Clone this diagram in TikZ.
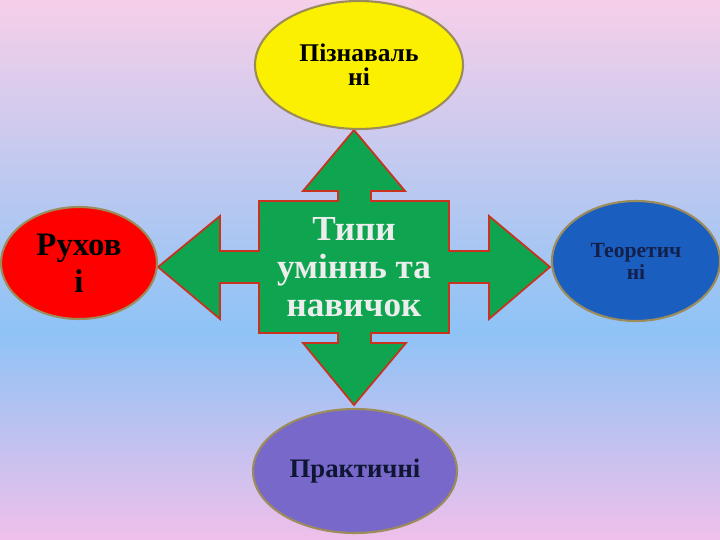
\documentclass[tikz,border=0pt]{standalone}
\usepackage{fontspec}
\setmainfont{Liberation Serif}
\usetikzlibrary{shapes.geometric}
\definecolor{bgpink}{HTML}{F6CFE9}
\definecolor{bgblue}{HTML}{8EC3F6}
\definecolor{bglilac}{HTML}{EFC0EA}
\definecolor{rim}{HTML}{9C8C5A}
\definecolor{arrowred}{HTML}{C8321E}
\definecolor{crossgreen}{HTML}{0FA550}
\definecolor{ovyellow}{HTML}{FBF000}
\definecolor{ovred}{HTML}{FF0000}
\definecolor{ovblue}{HTML}{1A5FBF}
\definecolor{ovpurple}{HTML}{7868CA}
\definecolor{navy}{HTML}{14204A}
\tikzset{
  oval/.style={ellipse,draw=rim,line width=1.2pt,align=center,inner sep=0pt,font=\bfseries},
}
\begin{document}
\begin{tikzpicture}[x=0.02cm,y=-0.02cm]
\useasboundingbox (0,0) rectangle (720,540);
% background
\shade[top color=bgpink,bottom color=bgblue] (0,0) rectangle (720,331);
\shade[top color=bgblue,bottom color=bglilac] (0,330) rectangle (720,540);
%
\coordinate (c) at (354,267);
\draw[fill=crossgreen,draw=arrowred,line width=1pt,line join=miter]
  (354,130) -- (405,191) -- (371,191) -- (371,201) -- (449,201) -- (449,251)
  -- (489,251) -- (489,216) -- (550,267) -- (489,319) -- (489,283) -- (449,283)
  -- (449,333) -- (371,333) -- (371,343) -- (406,343) -- (354,405) -- (303,343)
  -- (338,343) -- (338,333) -- (259,333) -- (259,283) -- (220,283) -- (220,319)
  -- (158,267) -- (220,216) -- (220,251) -- (259,251) -- (259,201) -- (338,201)
  -- (338,191) -- (303,191) -- cycle;
\node (typy) [align=center,text=white!93!black,font=\fontsize{20}{21.5}\selectfont\bfseries] at (c) {Типи\\уміннь та\\навичок};
%
\node (pizn) [oval,fill=ovyellow,minimum width=4.16cm,minimum height=2.56cm] at (359,65) {};
\node [align=center,font=\fontsize{14.5}{13.5}\selectfont\bfseries] at (pizn) {Пізнаваль\\ні};
\node (rukh) [oval,fill=ovred,minimum width=3.12cm,minimum height=2.24cm] at (79,263) {};
\node [align=center,font=\fontsize{18.7}{21}\selectfont\bfseries] at (rukh) {Рухов\\і};
\node (teor) [oval,fill=ovblue,minimum width=3.36cm,minimum height=2.4cm] at (636,261) {};
\node [align=center,text=navy,font=\fontsize{12.3}{12.5}\selectfont\bfseries] at (teor) {Теоретич\\ні};
\node (prakt) [oval,fill=ovpurple,minimum width=4.08cm,minimum height=2.48cm] at (355,471) {};
\node [text=navy!70!black,font=\fontsize{15.2}{17}\selectfont\bfseries] at (prakt) {Практичні};
\end{tikzpicture}
\end{document}
